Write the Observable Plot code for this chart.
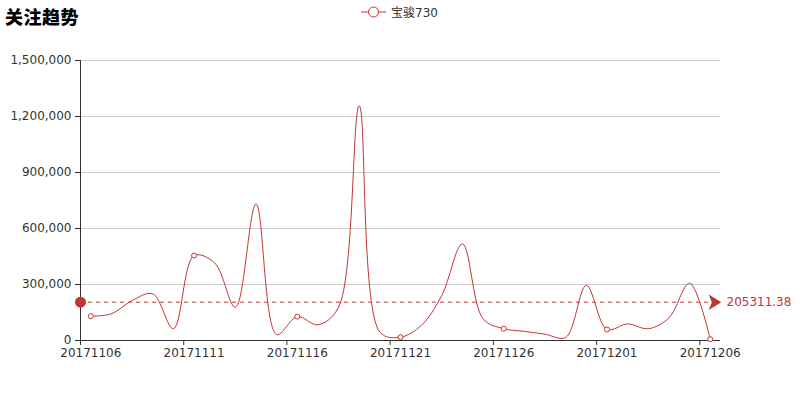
<!DOCTYPE html>
<html><head><meta charset="utf-8">
<script src="https://cdn.jsdelivr.net/npm/d3@7"></script>
<script src="https://cdn.jsdelivr.net/npm/@observablehq/plot@0.6"></script>
<style>
body{margin:0;background:#fff;font-family:"DejaVu Sans","Noto Sans CJK SC",sans-serif;}
#wrap{position:relative;width:800px;height:400px;}
#title{position:absolute;left:5px;top:3px;font-size:18px;font-weight:900;color:#000;letter-spacing:0.5px;font-family:"Noto Sans CJK SC","DejaVu Sans",sans-serif;}
#legend{position:absolute;left:361px;top:3px;font-size:12px;color:#333;display:flex;align-items:center;font-family:"DejaVu Sans","Noto Sans CJK SC",sans-serif;}
</style></head>
<body>
<div id="wrap">
<div id="chart"></div>
<div id="title">关注趋势</div>
<div id="legend"><svg width="26" height="16" style="margin-right:4px"><line x1="0" y1="8" x2="25" y2="8" stroke="#c23531" stroke-width="1"/><circle cx="12.5" cy="8" r="5" fill="#fff" stroke="#c23531" stroke-width="1"/></svg><span id="legname"></span></div>
</div>
<script>
const seriesName = "宝骏730";
const dates = ["20171106","20171107","20171108","20171109","20171110","20171111","20171112","20171113","20171114","20171115","20171116","20171117","20171118","20171119","20171120","20171121","20171122","20171123","20171124","20171125","20171126","20171127","20171128","20171129","20171130","20171201","20171202","20171203","20171204","20171205","20171206"];
const values = [130000,143000,214000,250000,63000,455000,415000,178000,732000,32000,128000,84000,178000,1257000,45000,18000,80000,241000,518000,116000,63000,49000,34000,16000,295000,59000,89000,63000,121000,307000,7000];
const average = 205311.38;
const yTicks = [0,300000,600000,900000,1200000,1500000];
const labelEvery = 5;

document.getElementById("legname").textContent = seriesName;
const color = "#c23531";
const data = dates.map((d,i)=>({i, date:d, value:values[i]}));
const tickIdx = dates.map((d,i)=>i).filter(i=>i%labelEvery===0);
const fmt = d3.format(",");

// ECharts-like notched arrow (points up; rotated to point right)
const arrowSymbol = {
  draw(ctx, size){
    const r = Math.sqrt(size/Math.PI);
    const h = 1.8*r, w = 2.2*r, n = 0.45*r;
    ctx.moveTo(0, -h/2);
    ctx.lineTo(w/2, h/2);
    ctx.lineTo(0, h/2 - n);
    ctx.lineTo(-w/2, h/2);
    ctx.closePath();
  }
};

const chart = Plot.plot({
  width:800, height:400,
  marginTop:60, marginBottom:60, marginLeft:80, marginRight:80,
  style:{fontFamily:'"DejaVu Sans",sans-serif', fontSize:"12px", color:"#333", background:"#fff"},
  x:{type:"linear", domain:[0, dates.length]},
  y:{domain:[0,1500000]},
  marks:[
    Plot.gridY(yTicks, {stroke:"#ccc", strokeOpacity:1}),
    Plot.axisY(yTicks, {tickSize:5, tickPadding:4, tickFormat:fmt, fontSize:12, label:null, stroke:"#333"}),
    Plot.axisX(tickIdx, {tickSize:5, tickFormat:()=>"" , label:null, stroke:"#333"}),
    Plot.axisX(tickIdx.map(i=>i+0.5), {tickSize:0, tickPadding:8, tickFormat:v=>dates[Math.round(v-0.5)], fontSize:12, label:null}),
    Plot.ruleX([0], {stroke:"#333"}),
    Plot.ruleY([0], {stroke:"#333"}),
    Plot.line(data, {x:d=>d.i+0.5, y:"value", stroke:color, strokeWidth:1, curve:"catmull-rom"}),
    Plot.dot(data.filter(d=>d.i%labelEvery===0), {x:d=>d.i+0.5, y:"value", r:2.5, fill:"#fff", stroke:color, strokeWidth:1}),
    Plot.ruleY([average], {x1:0, x2:dates.length, stroke:color, strokeDasharray:"4,4", strokeWidth:1}),
    Plot.dot([average], {x:0, y:d=>d, r:5.5, fill:color, stroke:null}),
    Plot.dot([average], {x:dates.length, y:d=>d, symbol:arrowSymbol, rotate:90, r:7, fill:color, stroke:null, dx:-5.5}),
    Plot.text([average], {x:dates.length, y:d=>d, text:d=>String(d), textAnchor:"start", dx:6, fill:color, fontSize:12})
  ]
});
document.getElementById("chart").appendChild(chart);
</script>
</body></html>
